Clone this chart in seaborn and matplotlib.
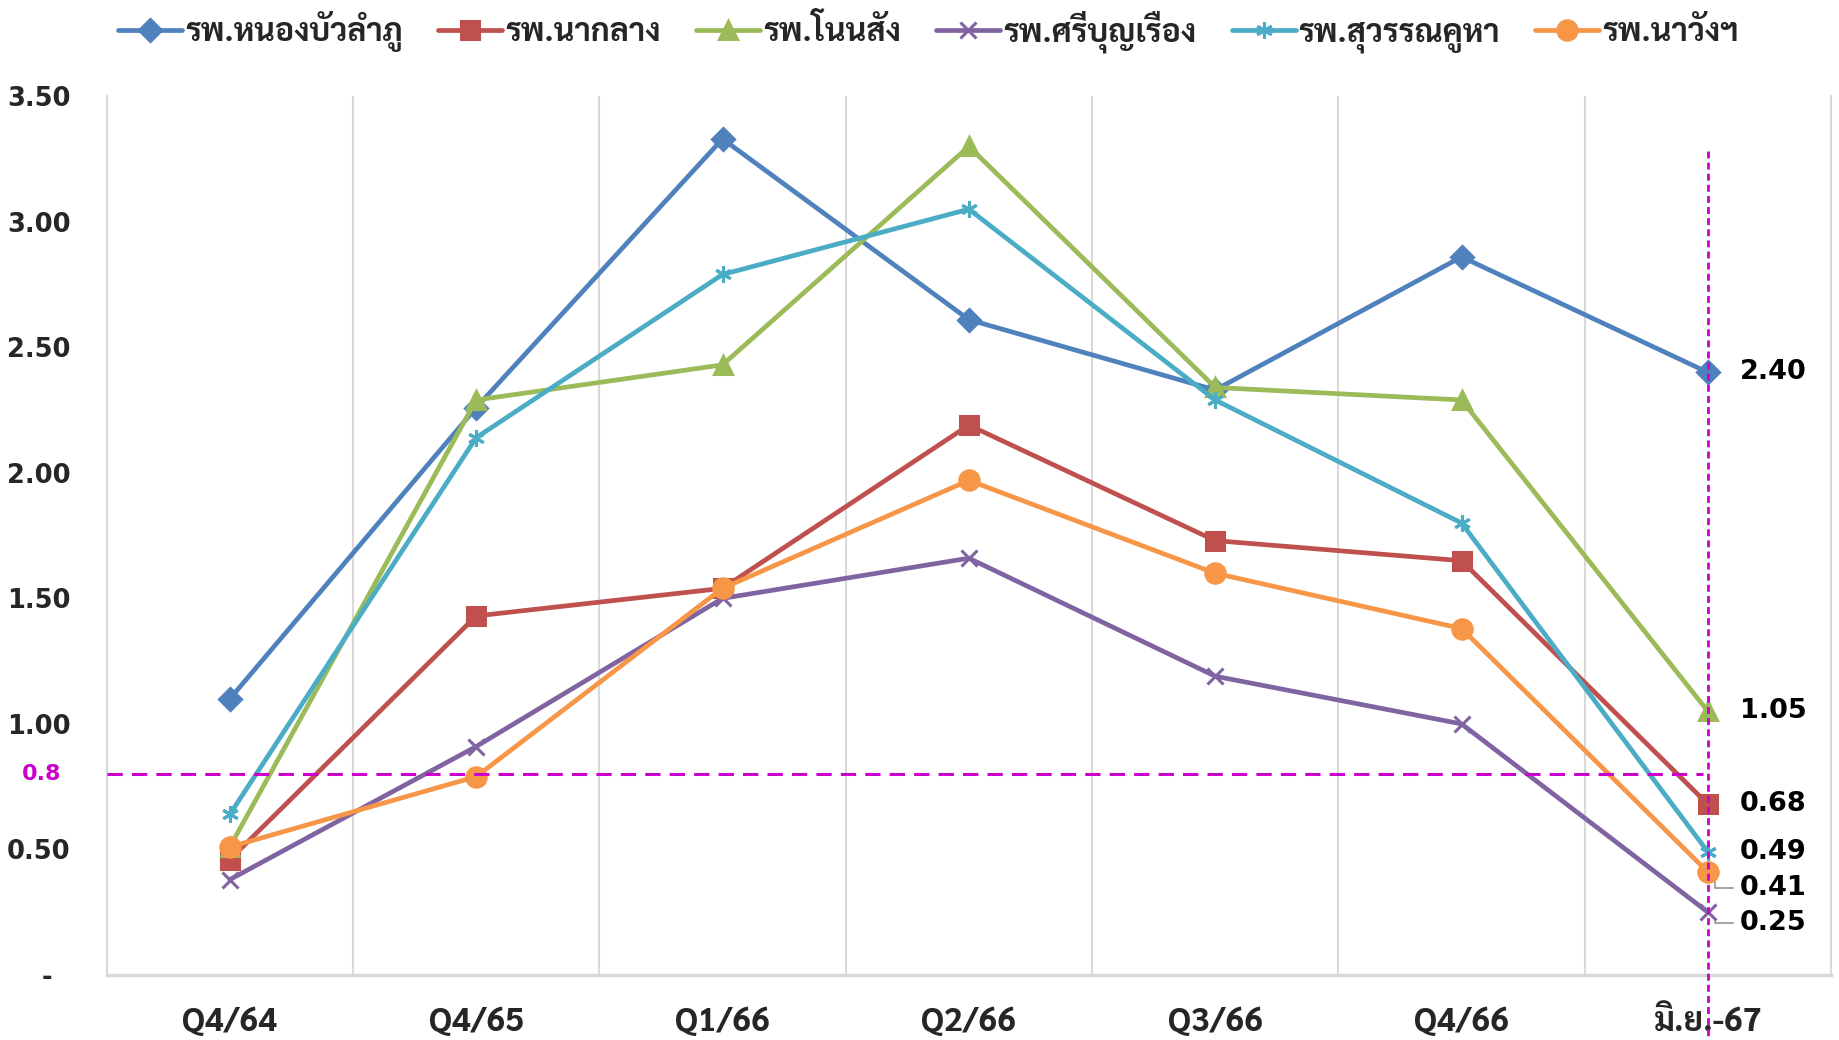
import matplotlib
matplotlib.use("Agg")
import matplotlib.pyplot as plt
import matplotlib.transforms as mtransforms
import seaborn as sns

# ==============================
# DATA
# ==============================
periods = ["Q4/64", "Q4/65", "Q1/66", "Q2/66", "Q3/66", "Q4/66", "มิ.ย.-67"]

hospitals = ["รพ.หนองบัวลำภู", "รพ.นากลาง", "รพ.โนนสัง", "รพ.ศรีบุญเรือง", "รพ.สุวรรณคูหา", "รพ.นาวังฯ"]

nongbua = [1.10, 2.26, 3.33, 2.61, 2.33, 2.86, 2.40]
naklang = [0.46, 1.43, 1.54, 2.19, 1.73, 1.65, 0.68]
nonsang = [0.51, 2.29, 2.43, 3.30, 2.34, 2.29, 1.05]
sriboonruang = [0.38, 0.91, 1.50, 1.66, 1.19, 1.00, 0.25]
suwannakuha = [0.64, 2.14, 2.79, 3.05, 2.29, 1.80, 0.49]
nawang = [0.51, 0.79, 1.54, 1.97, 1.60, 1.38, 0.41]

target = 0.8

yticks = [0, 0.5, 1.0, 1.5, 2.0, 2.5, 3.0, 3.5]
ytick_labels = ["-  ", "0.50", "1.00", "1.50", "2.00", "2.50", "3.00", "3.50"]

# ==============================
# STYLE
# ==============================
series = [nongbua, naklang, nonsang, sriboonruang, suwannakuha, nawang]
colors = ["#4F81BD", "#C0504D", "#9BBB59", "#8064A2", "#4BACC6", "#F79646"]
markers = ["D", "s", "^", "x", (6, 2, 0), "o"]
msizes = [11, 13, 13, 12, 12, 14]

# label y-position for the crowded last column (data units), same order as series
label_y = [2.40, 0.68, 1.05, 0.206, 0.49, 0.346]

sns.set_style("white")
plt.rcParams["font.family"] = ["DejaVu Sans"]
THAI = ["Sarabun", "DejaVu Sans"]
MAGENTA = "#CC00CC"

fig = plt.figure(figsize=(18.39, 10.40), dpi=100)
ax = fig.add_axes([0.058, 0.0625, 0.9377, 0.845])

for name, vals, c, m, ms in zip(hospitals, series, colors, markers, msizes):
    sns.lineplot(x=periods, y=vals, ax=ax, color=c, linewidth=3.4, marker=m,
                 markersize=ms, markeredgecolor=c, markerfacecolor=c,
                 markeredgewidth=2.2, label=name, sort=False, zorder=3)

ax.set_xlim(-0.5, 6.5)
ax.set_ylim(0, 3.5)

# target line and current-month marker line
ax.plot([-0.5, 5.98], [target, target], color=MAGENTA, linewidth=2.2,
        linestyle=(0, (5, 3)), zorder=4)
ax.plot([6, 6], [3.28, -0.25], color=MAGENTA, linewidth=2.0,
        linestyle=(0, (2.5, 1.5)), zorder=5, clip_on=False)
tr = mtransforms.blended_transform_factory(ax.transAxes, ax.transData)
ax.text(-0.038, target, "0.8", transform=tr, ha="center", va="center",
        color=MAGENTA, fontsize=16, fontweight="bold")

# labels for the last point
for vals, ly in zip(series, label_y):
    last = vals[-1]
    ax.text(6.13, ly, f"{last:.2f}", ha="left", va="center", fontsize=19.5,
            fontweight="bold", color="black", zorder=6)
    if abs(ly - last) > 0.02:
        ax.plot([6.03, 6.03, 6.1], [last - 0.04, ly, ly], color="#A6A6A6",
                linewidth=1.5, zorder=2)

# axes look
ax.set_yticks(yticks)
ax.set_yticklabels(ytick_labels, fontsize=18.5, fontweight="bold")
ax.set_xticks(range(len(periods)))
ax.set_xticklabels(periods, fontsize=24, fontweight="bold", family=THAI)
ax.tick_params(axis="y", length=0, pad=26)
ax.tick_params(axis="x", length=0, pad=22)
ax.set_xticks([i + 0.5 for i in range(len(periods) - 1)], minor=True)
ax.grid(False)
ax.grid(axis="x", which="minor", color="#D9D9D9", linewidth=1.5)
ax.set_xlabel("")
ax.set_ylabel("")
for side in ["left", "right"]:
    ax.spines[side].set_color("#D9D9D9")
    ax.spines[side].set_linewidth(1.5)
ax.spines["bottom"].set_color("#D9D9D9")
ax.spines["bottom"].set_linewidth(2.5)
ax.spines["top"].set_visible(False)

ax.legend_.remove()
handles, labels = ax.get_legend_handles_labels()
fig.legend(handles, labels, loc="upper center", bbox_to_anchor=(0.505, 1.018),
           ncol=6, frameon=False, handlelength=2.0, columnspacing=1.1,
           handletextpad=0.1, prop={"family": THAI, "weight": "bold", "size": 23})

plt.savefig("out.png")
